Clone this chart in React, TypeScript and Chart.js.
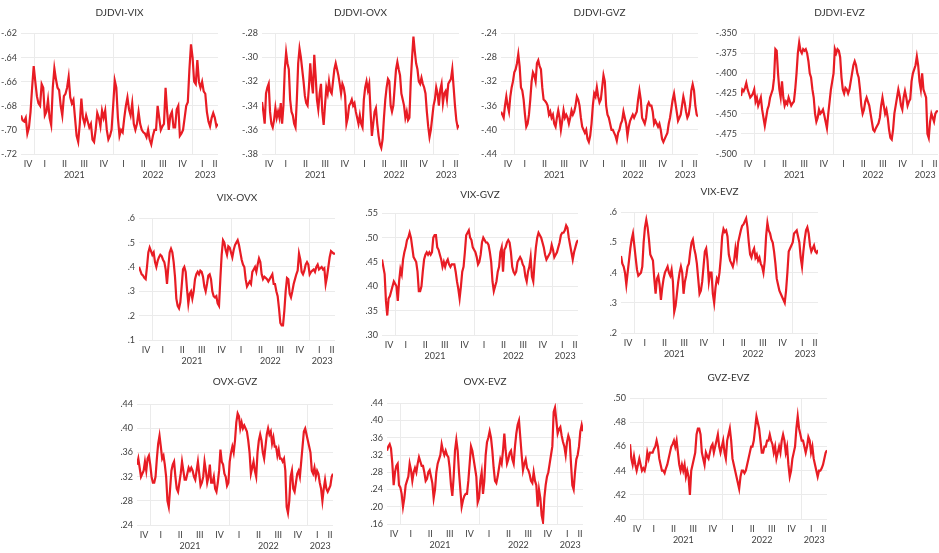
import React, { useEffect, useRef } from "react";
import { Chart, registerables } from "chart.js";

Chart.register(...registerables);

// time axis measured in quarters since 2020-10-01
const START = 0.29;
const END = 10.3;
const QUARTER_LABELS = ["IV", "I", "II", "III", "IV", "I", "II", "III", "IV", "I", "II"];
const YEAR_LABELS = ["2021", "2022", "2023"];
const YEAR_BOUNDS = [1, 5, 9];

const TITLES = ["DJDVI-VIX", "DJDVI-OVX", "DJDVI-GVZ", "DJDVI-EVZ", "VIX-OVX", "VIX-GVZ", "VIX-EVZ", "OVX-GVZ", "OVX-EVZ", "GVZ-EVZ"];

const djdviVix = [-0.688,-0.692,-0.693,-0.69,-0.703,-0.698,-0.685,-0.665,-0.647,-0.66,-0.672,-0.678,-0.68,-0.662,-0.665,-0.688,-0.685,-0.675,-0.69,-0.696,-0.665,-0.649,-0.658,-0.665,-0.667,-0.68,-0.688,-0.672,-0.67,-0.665,-0.656,-0.673,-0.678,-0.675,-0.69,-0.705,-0.71,-0.695,-0.674,-0.69,-0.695,-0.688,-0.693,-0.698,-0.695,-0.708,-0.71,-0.7,-0.686,-0.69,-0.697,-0.684,-0.69,-0.684,-0.7,-0.708,-0.705,-0.7,-0.68,-0.659,-0.665,-0.69,-0.705,-0.7,-0.702,-0.69,-0.68,-0.673,-0.683,-0.688,-0.678,-0.695,-0.7,-0.695,-0.685,-0.695,-0.7,-0.702,-0.703,-0.706,-0.7,-0.708,-0.712,-0.705,-0.7,-0.7,-0.68,-0.69,-0.7,-0.697,-0.695,-0.665,-0.685,-0.7,-0.688,-0.685,-0.698,-0.698,-0.683,-0.68,-0.705,-0.703,-0.7,-0.69,-0.68,-0.677,-0.65,-0.629,-0.64,-0.66,-0.662,-0.642,-0.66,-0.665,-0.66,-0.668,-0.67,-0.685,-0.693,-0.697,-0.69,-0.686,-0.69,-0.697,-0.695];

const djdviOvx = [-0.337,-0.345,-0.355,-0.33,-0.325,-0.322,-0.345,-0.355,-0.358,-0.352,-0.342,-0.35,-0.345,-0.35,-0.338,-0.355,-0.34,-0.31,-0.296,-0.305,-0.31,-0.335,-0.345,-0.348,-0.355,-0.358,-0.335,-0.305,-0.293,-0.3,-0.31,-0.32,-0.332,-0.338,-0.34,-0.325,-0.305,-0.32,-0.33,-0.298,-0.315,-0.335,-0.343,-0.33,-0.322,-0.345,-0.356,-0.34,-0.325,-0.33,-0.32,-0.328,-0.33,-0.32,-0.31,-0.305,-0.31,-0.315,-0.322,-0.33,-0.322,-0.325,-0.332,-0.355,-0.35,-0.34,-0.338,-0.335,-0.34,-0.338,-0.345,-0.35,-0.355,-0.348,-0.355,-0.358,-0.335,-0.325,-0.32,-0.327,-0.322,-0.345,-0.365,-0.355,-0.345,-0.342,-0.355,-0.365,-0.372,-0.375,-0.368,-0.35,-0.335,-0.325,-0.318,-0.32,-0.34,-0.345,-0.34,-0.325,-0.31,-0.304,-0.31,-0.315,-0.33,-0.335,-0.34,-0.35,-0.345,-0.352,-0.35,-0.32,-0.3,-0.283,-0.295,-0.305,-0.31,-0.32,-0.322,-0.317,-0.322,-0.325,-0.33,-0.345,-0.357,-0.366,-0.36,-0.35,-0.34,-0.335,-0.325,-0.33,-0.34,-0.327,-0.322,-0.338,-0.33,-0.328,-0.335,-0.322,-0.32,-0.318,-0.31,-0.325,-0.34,-0.352,-0.358,-0.356];

const djdviGvz = [-0.37,-0.375,-0.38,-0.36,-0.345,-0.36,-0.37,-0.345,-0.33,-0.32,-0.305,-0.3,-0.29,-0.275,-0.295,-0.33,-0.335,-0.35,-0.375,-0.395,-0.39,-0.375,-0.35,-0.32,-0.305,-0.31,-0.32,-0.29,-0.285,-0.295,-0.3,-0.33,-0.35,-0.352,-0.355,-0.36,-0.375,-0.37,-0.38,-0.375,-0.39,-0.395,-0.38,-0.368,-0.38,-0.4,-0.385,-0.368,-0.38,-0.375,-0.38,-0.39,-0.38,-0.368,-0.375,-0.37,-0.36,-0.345,-0.35,-0.36,-0.38,-0.395,-0.4,-0.405,-0.4,-0.415,-0.42,-0.41,-0.39,-0.36,-0.34,-0.345,-0.33,-0.345,-0.355,-0.35,-0.33,-0.31,-0.32,-0.36,-0.375,-0.38,-0.39,-0.4,-0.4,-0.405,-0.41,-0.418,-0.405,-0.4,-0.39,-0.385,-0.37,-0.38,-0.39,-0.41,-0.395,-0.385,-0.38,-0.375,-0.38,-0.375,-0.37,-0.35,-0.335,-0.35,-0.38,-0.385,-0.39,-0.38,-0.36,-0.355,-0.36,-0.36,-0.37,-0.39,-0.385,-0.39,-0.395,-0.39,-0.4,-0.415,-0.42,-0.415,-0.41,-0.405,-0.39,-0.38,-0.365,-0.35,-0.34,-0.355,-0.37,-0.385,-0.38,-0.375,-0.36,-0.345,-0.355,-0.37,-0.38,-0.375,-0.36,-0.335,-0.325,-0.335,-0.36,-0.375,-0.378];

const djdviEvz = [-0.428,-0.42,-0.422,-0.418,-0.412,-0.42,-0.425,-0.43,-0.428,-0.425,-0.42,-0.435,-0.43,-0.44,-0.435,-0.43,-0.445,-0.455,-0.465,-0.455,-0.445,-0.44,-0.43,-0.425,-0.42,-0.406,-0.37,-0.372,-0.4,-0.42,-0.43,-0.41,-0.43,-0.44,-0.435,-0.438,-0.43,-0.435,-0.44,-0.437,-0.435,-0.42,-0.4,-0.375,-0.362,-0.372,-0.375,-0.37,-0.372,-0.37,-0.375,-0.385,-0.4,-0.405,-0.42,-0.43,-0.45,-0.46,-0.455,-0.445,-0.45,-0.448,-0.445,-0.452,-0.46,-0.468,-0.45,-0.435,-0.42,-0.41,-0.4,-0.37,-0.375,-0.37,-0.372,-0.38,-0.405,-0.42,-0.425,-0.418,-0.42,-0.425,-0.42,-0.41,-0.4,-0.39,-0.385,-0.39,-0.4,-0.405,-0.42,-0.44,-0.45,-0.445,-0.435,-0.43,-0.435,-0.44,-0.45,-0.46,-0.47,-0.472,-0.468,-0.465,-0.462,-0.455,-0.44,-0.43,-0.44,-0.45,-0.445,-0.455,-0.47,-0.48,-0.482,-0.47,-0.45,-0.44,-0.43,-0.42,-0.428,-0.44,-0.445,-0.43,-0.422,-0.43,-0.44,-0.435,-0.432,-0.41,-0.4,-0.395,-0.39,-0.379,-0.39,-0.41,-0.42,-0.4,-0.42,-0.425,-0.43,-0.475,-0.48,-0.46,-0.45,-0.455,-0.46,-0.45,-0.447,-0.447];

const vixOvx = [0.4,0.385,0.37,0.365,0.355,0.35,0.4,0.46,0.48,0.465,0.45,0.46,0.42,0.4,0.425,0.44,0.45,0.445,0.43,0.42,0.39,0.33,0.4,0.46,0.475,0.46,0.42,0.36,0.27,0.24,0.23,0.255,0.32,0.39,0.4,0.38,0.31,0.25,0.29,0.3,0.27,0.3,0.35,0.37,0.38,0.37,0.385,0.38,0.36,0.32,0.3,0.33,0.365,0.37,0.35,0.3,0.28,0.275,0.28,0.25,0.24,0.35,0.45,0.51,0.5,0.47,0.45,0.485,0.48,0.46,0.44,0.47,0.49,0.5,0.51,0.49,0.46,0.43,0.41,0.4,0.35,0.32,0.33,0.34,0.33,0.38,0.39,0.4,0.38,0.41,0.435,0.42,0.37,0.35,0.36,0.355,0.35,0.34,0.35,0.36,0.37,0.33,0.33,0.3,0.28,0.23,0.17,0.16,0.16,0.22,0.3,0.355,0.35,0.29,0.275,0.3,0.33,0.35,0.37,0.385,0.455,0.43,0.38,0.37,0.385,0.41,0.42,0.41,0.37,0.38,0.385,0.39,0.38,0.4,0.41,0.39,0.395,0.4,0.39,0.395,0.33,0.36,0.4,0.44,0.465,0.46,0.455,0.455];

const vixGvz = [0.455,0.44,0.425,0.37,0.34,0.375,0.38,0.39,0.4,0.41,0.405,0.4,0.37,0.41,0.435,0.425,0.455,0.47,0.48,0.495,0.5,0.51,0.5,0.48,0.46,0.455,0.45,0.43,0.39,0.39,0.4,0.43,0.455,0.465,0.47,0.465,0.47,0.465,0.47,0.5,0.505,0.505,0.48,0.475,0.465,0.455,0.44,0.45,0.44,0.45,0.455,0.445,0.44,0.445,0.445,0.445,0.43,0.41,0.395,0.375,0.4,0.43,0.44,0.47,0.505,0.51,0.515,0.5,0.495,0.48,0.475,0.47,0.46,0.445,0.45,0.465,0.49,0.5,0.495,0.49,0.49,0.485,0.47,0.45,0.41,0.39,0.4,0.41,0.43,0.44,0.47,0.48,0.43,0.475,0.48,0.49,0.495,0.49,0.47,0.44,0.43,0.425,0.43,0.45,0.455,0.46,0.455,0.445,0.44,0.42,0.41,0.43,0.44,0.46,0.42,0.41,0.45,0.48,0.5,0.51,0.505,0.5,0.49,0.48,0.465,0.455,0.46,0.465,0.47,0.485,0.475,0.46,0.465,0.47,0.48,0.49,0.505,0.51,0.51,0.515,0.525,0.52,0.5,0.485,0.47,0.455,0.47,0.48,0.49,0.495];

const vixEvz = [0.455,0.43,0.42,0.4,0.36,0.4,0.44,0.48,0.51,0.53,0.49,0.45,0.41,0.39,0.395,0.4,0.42,0.5,0.55,0.575,0.55,0.51,0.46,0.45,0.44,0.38,0.33,0.38,0.39,0.36,0.31,0.35,0.38,0.4,0.41,0.42,0.4,0.39,0.41,0.37,0.27,0.29,0.33,0.37,0.4,0.42,0.4,0.33,0.37,0.39,0.42,0.43,0.47,0.5,0.51,0.48,0.46,0.43,0.38,0.33,0.34,0.37,0.42,0.47,0.48,0.44,0.37,0.4,0.4,0.33,0.3,0.35,0.38,0.37,0.4,0.45,0.52,0.545,0.535,0.54,0.52,0.46,0.44,0.43,0.42,0.44,0.48,0.45,0.5,0.52,0.54,0.555,0.56,0.57,0.58,0.55,0.5,0.46,0.45,0.47,0.48,0.45,0.46,0.44,0.45,0.43,0.42,0.4,0.44,0.52,0.565,0.54,0.53,0.51,0.5,0.47,0.43,0.38,0.36,0.34,0.33,0.32,0.31,0.3,0.34,0.4,0.47,0.48,0.49,0.5,0.53,0.535,0.54,0.52,0.5,0.45,0.42,0.47,0.51,0.54,0.55,0.53,0.49,0.47,0.48,0.49,0.47,0.465,0.475];

const ovxGvz = [0.34,0.35,0.335,0.32,0.325,0.33,0.345,0.33,0.35,0.355,0.34,0.32,0.31,0.31,0.32,0.35,0.375,0.388,0.37,0.35,0.355,0.34,0.32,0.28,0.27,0.3,0.33,0.34,0.345,0.32,0.3,0.295,0.31,0.325,0.345,0.33,0.315,0.315,0.325,0.335,0.33,0.335,0.33,0.32,0.315,0.33,0.345,0.325,0.305,0.31,0.32,0.345,0.33,0.31,0.32,0.34,0.31,0.31,0.32,0.3,0.295,0.31,0.33,0.365,0.345,0.34,0.325,0.32,0.305,0.31,0.345,0.36,0.37,0.36,0.38,0.41,0.425,0.42,0.4,0.41,0.4,0.405,0.4,0.395,0.38,0.36,0.325,0.335,0.345,0.33,0.32,0.36,0.38,0.39,0.38,0.36,0.35,0.37,0.39,0.4,0.39,0.395,0.375,0.385,0.37,0.37,0.355,0.365,0.35,0.35,0.345,0.35,0.33,0.27,0.26,0.28,0.32,0.33,0.3,0.295,0.31,0.325,0.33,0.32,0.345,0.37,0.395,0.4,0.39,0.38,0.37,0.36,0.33,0.325,0.335,0.32,0.33,0.325,0.31,0.3,0.28,0.3,0.315,0.3,0.295,0.3,0.305,0.32,0.325];

const ovxEvz = [0.33,0.34,0.345,0.335,0.3,0.25,0.28,0.295,0.3,0.25,0.245,0.23,0.2,0.22,0.25,0.26,0.27,0.3,0.285,0.26,0.28,0.29,0.28,0.3,0.315,0.305,0.295,0.295,0.28,0.26,0.265,0.28,0.285,0.27,0.255,0.22,0.24,0.28,0.3,0.31,0.32,0.345,0.33,0.32,0.33,0.32,0.315,0.29,0.25,0.225,0.27,0.33,0.355,0.33,0.28,0.24,0.2,0.215,0.225,0.23,0.23,0.26,0.3,0.34,0.33,0.31,0.29,0.27,0.21,0.22,0.26,0.28,0.23,0.26,0.32,0.35,0.36,0.375,0.36,0.33,0.29,0.26,0.255,0.27,0.29,0.31,0.3,0.33,0.37,0.33,0.3,0.31,0.325,0.33,0.31,0.3,0.34,0.37,0.39,0.4,0.36,0.32,0.285,0.3,0.31,0.29,0.285,0.275,0.26,0.255,0.28,0.26,0.25,0.2,0.24,0.22,0.18,0.165,0.22,0.25,0.27,0.28,0.3,0.32,0.34,0.42,0.43,0.4,0.37,0.38,0.385,0.365,0.35,0.34,0.32,0.35,0.365,0.355,0.3,0.25,0.24,0.28,0.31,0.32,0.34,0.375,0.39,0.375];

const gvzEvz = [0.462,0.45,0.445,0.452,0.445,0.44,0.445,0.45,0.445,0.44,0.442,0.44,0.445,0.455,0.45,0.455,0.455,0.455,0.458,0.46,0.465,0.46,0.45,0.445,0.44,0.44,0.438,0.442,0.445,0.45,0.455,0.46,0.462,0.465,0.46,0.465,0.455,0.445,0.44,0.445,0.44,0.445,0.435,0.44,0.435,0.42,0.44,0.445,0.45,0.455,0.47,0.475,0.475,0.47,0.455,0.45,0.445,0.455,0.452,0.45,0.455,0.46,0.462,0.455,0.46,0.465,0.47,0.46,0.455,0.46,0.465,0.455,0.45,0.465,0.47,0.475,0.465,0.45,0.445,0.44,0.435,0.43,0.425,0.435,0.44,0.44,0.438,0.44,0.445,0.45,0.455,0.46,0.46,0.465,0.475,0.485,0.48,0.475,0.465,0.455,0.455,0.46,0.46,0.465,0.465,0.47,0.465,0.462,0.455,0.46,0.45,0.455,0.46,0.455,0.465,0.47,0.465,0.455,0.46,0.445,0.435,0.44,0.45,0.455,0.46,0.475,0.485,0.475,0.47,0.465,0.465,0.46,0.455,0.46,0.468,0.465,0.455,0.46,0.45,0.445,0.44,0.435,0.44,0.44,0.442,0.445,0.45,0.455,0.457];

const SERIES = [djdviVix, djdviOvx, djdviGvz, djdviEvz, vixOvx, vixGvz, vixEvz, ovxGvz, ovxEvz, gvzEvz];

const Y_TICKS: number[][] = [
  [-0.72, -0.7, -0.68, -0.66, -0.64, -0.62],
  [-0.38, -0.36, -0.34, -0.32, -0.3, -0.28],
  [-0.44, -0.4, -0.36, -0.32, -0.28, -0.24],
  [-0.5, -0.475, -0.45, -0.425, -0.4, -0.375, -0.35],
  [0.1, 0.2, 0.3, 0.4, 0.5, 0.6],
  [0.3, 0.35, 0.4, 0.45, 0.5, 0.55],
  [0.2, 0.3, 0.4, 0.5, 0.6],
  [0.24, 0.28, 0.32, 0.36, 0.4, 0.44],
  [0.16, 0.2, 0.24, 0.28, 0.32, 0.36, 0.4, 0.44],
  [0.4, 0.42, 0.44, 0.46, 0.48, 0.5],
];
const Y_DECIMALS = [2, 2, 2, 3, 1, 2, 1, 2, 2, 2];

// layout of each panel's plot area (page pixels)
const LAYOUT = [
  { L: 21, R: 218, T: 33.5, B: 154, ty: 12.7 },
  { L: 262, R: 459, T: 33, B: 154, ty: 12.7 },
  { L: 501, R: 698, T: 33, B: 154, ty: 12.7 },
  { L: 741, R: 938, T: 33, B: 154, ty: 12.7 },
  { L: 139, R: 335, T: 218.3, B: 340, ty: 198 },
  { L: 382, R: 578, T: 213.3, B: 335, ty: 195 },
  { L: 621, R: 818, T: 212.3, B: 333.3, ty: 191.7 },
  { L: 137, R: 333, T: 404.3, B: 525, ty: 381.7 },
  { L: 387, R: 583, T: 403.3, B: 524.3, ty: 381.7 },
  { L: 630, R: 827, T: 398.3, B: 519, ty: 378.3 },
];

const RED = "#e81c24";
const GRID = "#ebebeb";
const TICK_COLOR = "#404040";
const FONT = "Lato, 'Open Sans', sans-serif";
const TITLE_SIZE = 10;
const TICK_SIZE = 9;
const Y_AXIS_W = 30;
const RIGHT_PAD = 8;
const HQ = 13;
const HY = 14;

const fmt = (v: number, d: number) => {
  const s = Math.abs(v).toFixed(d).replace(/^0/, "");
  return v < 0 ? "-" + s : s;
};

function Panel({ idx }: { idx: number }) {
  const ref = useRef<HTMLCanvasElement>(null);
  const lay = LAYOUT[idx];
  const left = lay.L - Y_AXIS_W;
  const width = Math.round(lay.R - lay.L + Y_AXIS_W + RIGHT_PAD);
  const top = Math.round(lay.ty - (TITLE_SIZE * 1.2) / 2);
  const height = Math.round(lay.B + HQ + HY + 1 - top);

  useEffect(() => {
    const values = SERIES[idx];
    const n = values.length;
    const pts = values.map((v, i) => ({ x: START + (i * (END - START)) / (n - 1), y: v }));
    const qPos = [(START + 1) / 2];
    for (let q = 1; q <= 9; q++) qPos.push(q + 0.5);
    qPos.push((10 + END) / 2);
    const yPos = [3, 7, (9 + END) / 2];
    const key = (v: number) => v.toFixed(3);
    const qMap = new Map<string, string>();
    qPos.forEach((p, i) => qMap.set(key(p), QUARTER_LABELS[i]));
    const yrMap = new Map<string, string>();
    yPos.forEach((p, i) => yrMap.set(key(p), YEAR_LABELS[i]));
    const xTickVals = [...qPos, ...YEAR_BOUNDS].sort((a, b) => a - b);
    const yT = Y_TICKS[idx];
    const dec = Y_DECIMALS[idx];

    const chart = new Chart(ref.current!, {
      type: "line",
      data: {
        datasets: [
          {
            data: pts,
            borderColor: RED,
            backgroundColor: RED,
            borderWidth: 2.2,
            pointRadius: 0,
            tension: 0,
            fill: false,
          },
        ],
      },
      options: {
        animation: false,
        responsive: false,
        events: [],
        layout: { padding: { left: 0, right: RIGHT_PAD, top: 0, bottom: 1 } },
        plugins: {
          legend: { display: false },
          tooltip: { enabled: false },
          title: {
            display: true,
            text: TITLES[idx],
            fullSize: false,
            color: "#333333",
            font: { family: FONT, size: TITLE_SIZE, weight: "normal" },
            padding: { top: 0, bottom: lay.T - top - TITLE_SIZE * 1.2 },
          },
        },
        scales: {
          x: {
            type: "linear",
            position: "bottom",
            weight: 0,
            min: START,
            max: END,
            afterBuildTicks: (s: any) => {
              s.ticks = xTickVals.map((v) => ({ value: v }));
            },
            afterFit: (s: any) => {
              s.height = HQ;
            },
            border: { display: false },
            grid: {
              drawTicks: false,
              lineWidth: 1,
              color: (c: any) =>
                c.tick && YEAR_BOUNDS.includes(c.tick.value) ? GRID : "rgba(0,0,0,0)",
            },
            ticks: {
              autoSkip: false,
              maxRotation: 0,
              padding: 5,
              color: TICK_COLOR,
              font: { family: FONT, size: TICK_SIZE },
              callback: (v: any) => qMap.get(key(Number(v))) ?? "",
            },
          },
          xYear: {
            type: "linear",
            axis: "x",
            position: "bottom",
            weight: 1,
            min: START,
            max: END,
            afterBuildTicks: (s: any) => {
              s.ticks = yPos.map((v) => ({ value: v }));
            },
            afterFit: (s: any) => {
              s.height = HY;
            },
            border: { display: false },
            grid: { display: false, drawTicks: false },
            ticks: {
              autoSkip: false,
              maxRotation: 0,
              padding: 3,
              color: TICK_COLOR,
              font: { family: FONT, size: TICK_SIZE },
              callback: (v: any) => yrMap.get(key(Number(v))) ?? "",
            },
          },
          y: {
            type: "linear",
            min: yT[0],
            max: yT[yT.length - 1],
            afterBuildTicks: (s: any) => {
              s.ticks = yT.map((v) => ({ value: v }));
            },
            afterFit: (s: any) => {
              s.width = Y_AXIS_W;
            },
            border: { display: false },
            grid: { drawTicks: false, color: GRID, lineWidth: 1 },
            ticks: {
              padding: 4,
              color: TICK_COLOR,
              font: { family: FONT, size: TICK_SIZE },
              callback: (v: any) => fmt(Number(v), dec),
            },
          },
        },
      } as any,
    });
    return () => chart.destroy();
  }, [idx]);

  return (
    <canvas
      ref={ref}
      width={width}
      height={height}
      style={{ position: "absolute", left, top, width, height }}
    />
  );
}

export default function App() {
  return (
    <div
      style={{
        position: "absolute",
        left: 0,
        top: 0,
        width: 939,
        height: 553,
        overflow: "hidden",
        background: "#ffffff",
      }}
    >
      {SERIES.map((_, i) => (
        <Panel key={i} idx={i} />
      ))}
    </div>
  );
}
